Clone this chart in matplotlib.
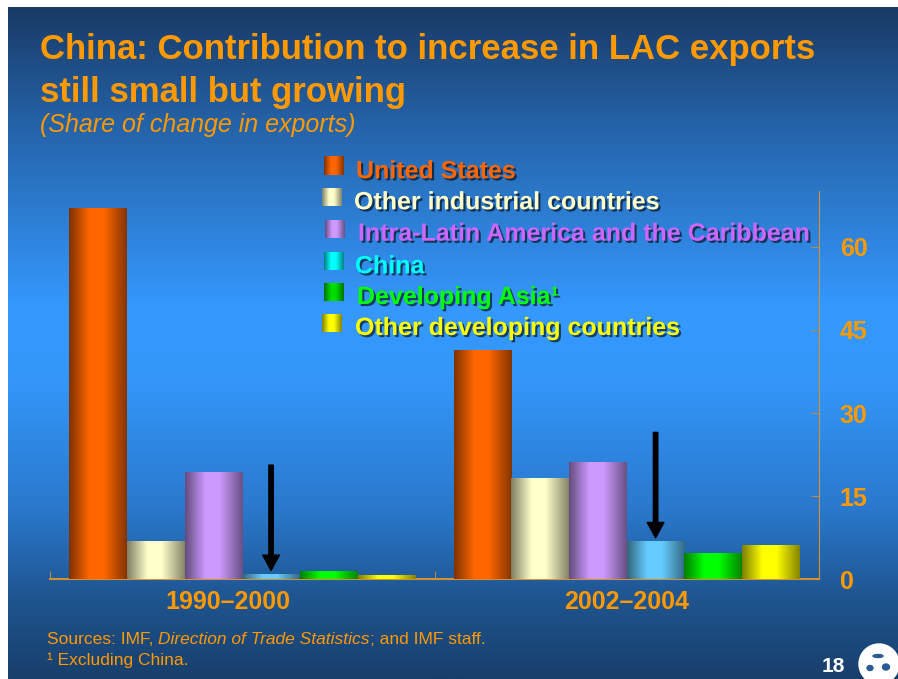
import numpy as np
import matplotlib
matplotlib.use('Agg')
import matplotlib.pyplot as plt
from matplotlib import patheffects as pe
from matplotlib.colors import to_rgb, LinearSegmentedColormap
from matplotlib.patches import Circle, Ellipse
from matplotlib.transforms import ScaledTranslation

plt.rcParams['font.family'] = ['Liberation Sans', 'DejaVu Sans']

# share of change in LAC exports (%)
periods = ['1990–2000', '2002–2004']
us = [67.0, 41.4]
other_industrial = [6.9, 18.3]
intra_lac = [19.4, 21.2]
china = [1.0, 6.9]
developing_asia = [1.5, 4.7]
other_developing = [0.8, 6.2]

series = [us, other_industrial, intra_lac, china, developing_asia, other_developing]
names = ['United States', 'Other industrial countries',
         'Intra-Latin America and the Caribbean', 'China',
         'Developing Asia¹', 'Other developing countries']
yticks = [0, 15, 30, 45, 60]

bar_colors = ['#ff6600', '#ffffcc', '#cc99ff', '#66ccff', '#00ff00', '#ffff00']
key_colors = ['#ff6600', '#ffffcc', '#cc99ff', '#00ffff', '#00dd00', '#ffff00']
text_colors = ['#ff6600', '#ffffcc', '#cc66ff', '#00ffff', '#00ff00', '#ffff00']
orange = '#ff9900'
axis_col = '#d4912e'

W, H = 898, 679
fig = plt.figure(figsize=(W / 100, H / 100), dpi=100)
fig.patch.set_facecolor('white')


def shade(base, n=64):
    # horizontal "cylinder" shading: dark edges, bright middle
    base = np.array(to_rgb(base))
    dark = base * 0.5
    t = np.linspace(0, 1, n)
    w = np.interp(t, [0, 0.35, 0.6, 1], [0, 1, 1, 0.05])
    return (dark + (base - dark) * w[:, None])[None, :, :]


# slide background
bg = fig.add_axes([8 / W, 0, 1 - 8 / W, (H - 7) / H])
bg_cmap = LinearSegmentedColormap.from_list('slide', [
    (0, '#193a66'), (0.18, '#2564aa'), (0.45, '#3599ff'), (0.56, '#3396f8'),
    (0.75, '#2a78cc'), (0.88, '#1f5590'), (1, '#183f6c')])
bg.imshow(np.linspace(0, 1, 256).reshape(-1, 1), cmap=bg_cmap, aspect='auto')
bg.axis('off')
bg.set_zorder(0)

# chart
ax = fig.add_axes([50 / W, 1 - 579.3 / H, 769 / W, 388 / H])
ax.set_zorder(1)
ax.patch.set_alpha(0)

width = 0.15
for i, (vals, col) in enumerate(zip(series, bar_colors)):
    x = np.arange(len(periods)) - 0.45 + width * (i + 0.5)
    bars = ax.bar(x, vals, width, color=col, linewidth=0, zorder=2)
    for b in bars:
        im = ax.imshow(shade(col), aspect='auto', interpolation='bilinear', zorder=3,
                       extent=(b.get_x(), b.get_x() + b.get_width(), 0, b.get_height()))
        im.set_clip_path(b)

# arrows pointing at the China bars
for j in range(len(periods)):
    xc = j - 0.45 + width * 3.5
    ax.annotate('', xy=(xc, china[j] + 0.6), xytext=(xc, china[j] + 19.6),
                arrowprops=dict(width=3.2, headwidth=12, headlength=11, shrink=0,
                                color='black'), zorder=4)

ax.set_xlim(-0.5, 1.5)
ax.set_ylim(0, 70)
for s in ['left', 'top']:
    ax.spines[s].set_visible(False)
ax.spines['right'].set_color(axis_col)
ax.spines['bottom'].set_color(axis_col)
ax.spines['bottom'].set_linewidth(1.5)

ax.yaxis.tick_right()
ax.set_yticks(yticks)
ax.set_yticklabels([str(v) for v in yticks], fontweight='bold')
ax.tick_params(axis='y', direction='in', length=6, color='#b08a50',
               labelcolor=orange, labelsize=18, pad=15)

ax.set_xticks(range(len(periods)))
ax.set_xticklabels(periods, fontweight='bold')
ax.set_xticks([-0.5, 0.5, 1.5], minor=True)
ax.tick_params(axis='x', which='major', length=0, labelcolor=orange, labelsize=18, pad=7.5)
ax.tick_params(axis='x', which='minor', direction='in', length=6, color=axis_col)
# first period label sits a little left of its bar group
lab0 = ax.xaxis.get_major_ticks()[0].label1
lab0.set_transform(lab0.get_transform() + ScaledTranslation(-14 / 100, 0, fig.dpi_scale_trans))

# overlay in pixel coordinates for titles, key and notes
ov = fig.add_axes([0, 0, 1, 1])
ov.set_zorder(5)
ov.patch.set_alpha(0)
ov.axis('off')

ov.text(40, 59.3, 'China: Contribution to increase in LAC exports', color=orange,
        fontsize=25, fontweight='bold', va='baseline')
ov.text(40, 101.7, 'still small but growing', color=orange,
        fontsize=25, fontweight='bold', va='baseline')
ov.text(40, 131.7, '(Share of change in exports)', color=orange,
        fontsize=18, style='italic', va='baseline')

shadow = [pe.withSimplePatchShadow(offset=(1.5, -1.5), shadow_rgbFace='black', alpha=0.6)]
baselines = [178.3, 209.3, 240.7, 273.3, 304, 335]
text_x = [356, 354, 358, 355, 357, 355]
key_x = [324, 322, 325, 324, 324, 322]
for name, kc, tc, yb, tx, kx in zip(names, key_colors, text_colors, baselines, text_x, key_x):
    ov.imshow(shade(kc), aspect='auto', interpolation='bilinear',
              extent=(kx, kx + 20, yb - 3, yb - 21))
    ov.text(tx, yb, name, color=tc, fontsize=18, fontweight='bold', va='baseline',
            path_effects=shadow)

# sources
renderer = fig.canvas.get_renderer()
xpos = 47
for txt, st in [('Sources: IMF, ', 'normal'), ('Direction of Trade Statistics', 'italic'),
                ('; and IMF staff.', 'normal')]:
    t = ov.text(xpos, 644, txt, color=orange, fontsize=12.5, style=st, va='baseline')
    xpos += t.get_window_extent(renderer).width
ov.text(47, 665, '¹ Excluding China.', color=orange, fontsize=12.5, va='baseline')

ov.text(833, 666, '18', color='white', fontsize=15, fontweight='bold',
        ha='center', va='center')
ov.add_patch(Circle((879, 664), 20, color='white'))
for ex, ey, ew, eh in [(870, 668, 6, 5), (886, 667, 7, 6), (878, 656, 10, 3)]:
    ov.add_patch(Ellipse((ex, ey), ew, eh, color='#2a5c94'))

ov.set_xlim(0, W)
ov.set_ylim(H, 0)

fig.savefig('out.png', dpi=100)
